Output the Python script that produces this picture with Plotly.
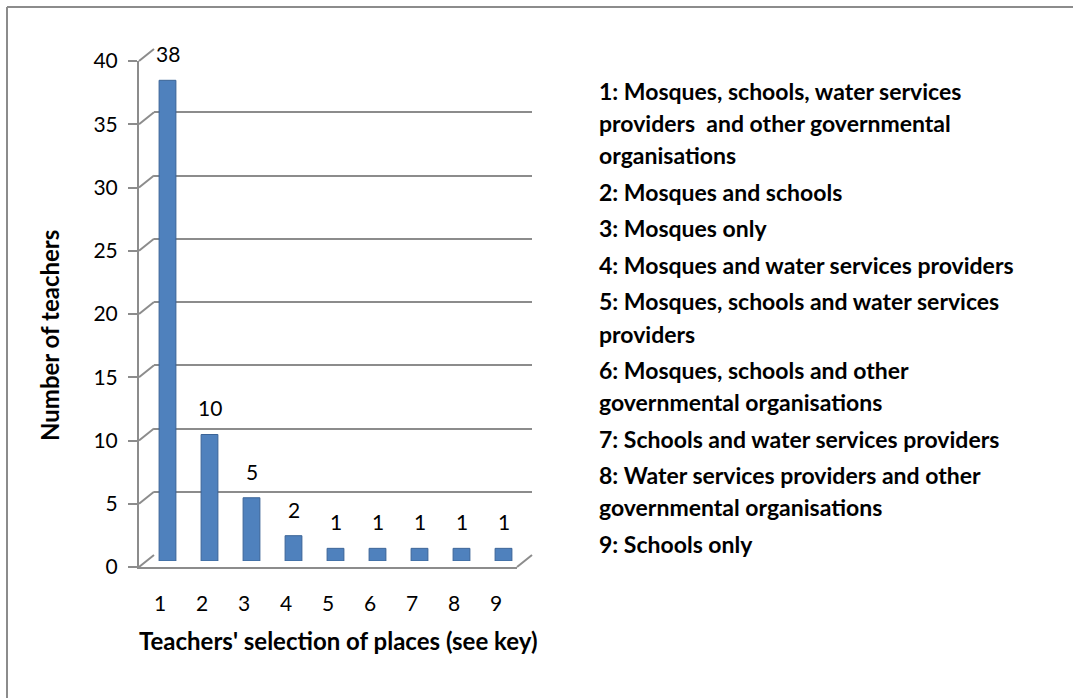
import plotly.graph_objects as go

W, H = 1073, 698

categories = [1, 2, 3, 4, 5, 6, 7, 8, 9]
teachers = [38, 10, 5, 2, 1, 1, 1, 1, 1]
y_ticks = [0, 5, 10, 15, 20, 25, 30, 35, 40]
key_items = [
    ["1: Mosques, schools, water services", "providers  and other governmental", "organisations"],
    ["2: Mosques and schools"],
    ["3: Mosques only"],
    ["4: Mosques and water services providers"],
    ["5: Mosques, schools and water services", "providers"],
    ["6: Mosques, schools and other", "governmental organisations"],
    ["7: Schools and water services providers"],
    ["8: Water services providers and other", "governmental organisations"],
    ["9: Schools only"],
]

FONT = "Lato"
GRID = "#8c8c8c"


def px(x):
    return x / W


def py(y):
    return 1 - y / H


# front plane pixel box
FX0, FX1, FY0, FY1 = 139, 517, 567, 61
DX, DY = 15, -12  # depth offset to back wall

fig = go.Figure()

# back wall grid (xy)
fig.add_trace(go.Scatter(x=[None], y=[None], xaxis="x", yaxis="y", showlegend=False))
# bars in mid plane (x2y2)
fig.add_trace(go.Bar(
    x=categories, y=teachers, xaxis="x2", yaxis="y2", width=0.4,
    marker=dict(color="#4f81bd", line=dict(color="#3b6497", width=1)),
    showlegend=False,
))
# front axis labels (x3y3)
fig.add_trace(go.Scatter(x=[None], y=[None], xaxis="x3", yaxis="y3", showlegend=False))

xr = [0.5, 9.5]
yr = [0, 40]

fig.update_layout(
    width=W, height=H, autosize=False,
    margin=dict(l=0, r=0, t=0, b=0, autoexpand=False),
    paper_bgcolor="white", plot_bgcolor="rgba(0,0,0,0)",
    font=dict(family=FONT, color="black"),
    xaxis=dict(domain=[px(FX0 + DX), px(FX1 + DX)], range=xr, visible=False, automargin=False),
    yaxis=dict(domain=[py(FY0 + DY), py(FY1 + DY)], range=yr, tickvals=y_ticks,
               showgrid=True, gridcolor=GRID, gridwidth=2, showticklabels=False,
               zeroline=False, showline=False, automargin=False),
    xaxis2=dict(domain=[px(FX0 + DX / 2), px(FX1 + DX / 2)], range=xr, visible=False,
                anchor="y2", automargin=False),
    yaxis2=dict(domain=[py(FY0 + DY / 2), py(FY1 + DY / 2)], range=yr, visible=False,
                anchor="x2", automargin=False),
    xaxis3=dict(domain=[px(FX0), px(FX1)], range=xr, anchor="y3", tickvals=categories,
                ticktext=[str(c) for c in categories], showgrid=False, zeroline=False,
                showline=True, linecolor=GRID, linewidth=2, ticks="", automargin=False,
                tickfont=dict(family=FONT, size=21), ticklabelstandoff=17),
    yaxis3=dict(domain=[py(FY0), py(FY1)], range=yr, anchor="x3", tickvals=y_ticks,
                showgrid=False, zeroline=False, showline=True, linecolor=GRID, linewidth=2,
                ticks="outside", ticklen=9, tickcolor=GRID, tickwidth=2, automargin=False,
                tickfont=dict(family=FONT, size=21), ticklabelstandoff=6),
)

shapes = []
# outer frame (top and left edges visible)
shapes.append(dict(type="line", xref="paper", yref="paper", x0=px(7), y0=py(7),
                   x1=1, y1=py(7), line=dict(color="#8c8c8c", width=2)))
shapes.append(dict(type="line", xref="paper", yref="paper", x0=px(7), y0=py(7),
                   x1=px(7), y1=0, line=dict(color="#8c8c8c", width=2)))
# diagonal connectors from front axis ticks to back wall
fy = lambda t: FY0 + (FY1 - FY0) * t / 40
for t in y_ticks:
    shapes.append(dict(type="line", xref="paper", yref="paper",
                       x0=px(FX0), y0=py(fy(t)), x1=px(FX0 + DX), y1=py(fy(t) + DY),
                       line=dict(color=GRID, width=2)))
# floor right edge
shapes.append(dict(type="line", xref="paper", yref="paper",
                   x0=px(FX1), y0=py(FY0), x1=px(FX1 + DX), y1=py(FY0 + DY),
                   line=dict(color=GRID, width=2)))

annotations = []
# data labels
for c, v in zip(categories, teachers):
    annotations.append(dict(text=str(v), xref="x2", yref="y2", x=c, y=v, xanchor="center",
                            yanchor="bottom", yshift=12, showarrow=False,
                            font=dict(family=FONT, size=21, color="black")))
# axis titles
annotations.append(dict(text="<b>Teachers' selection of places (see key)</b>", xref="paper",
                        yref="paper", x=px(338), y=py(640), xanchor="center", yanchor="middle",
                        showarrow=False, font=dict(family=FONT, size=24, color="black")))
annotations.append(dict(text="<b>Number of teachers</b>", xref="paper", yref="paper",
                        x=px(49), y=py(335), xanchor="center", yanchor="middle", textangle=-90,
                        showarrow=False, font=dict(family=FONT, size=24, color="black")))
# key
yk = 91
for i, item in enumerate(key_items):
    for j, line in enumerate(item):
        annotations.append(dict(text=f"<b>{line}</b>", xref="paper", yref="paper",
                                x=px(597), y=py(yk), xanchor="left", yanchor="middle",
                                showarrow=False, font=dict(family=FONT, size=23, color="black")))
        if j < len(item) - 1:
            yk += 32.2
    yk += 36.5

fig.update_layout(shapes=shapes, annotations=annotations)
fig.write_html("out.html")
